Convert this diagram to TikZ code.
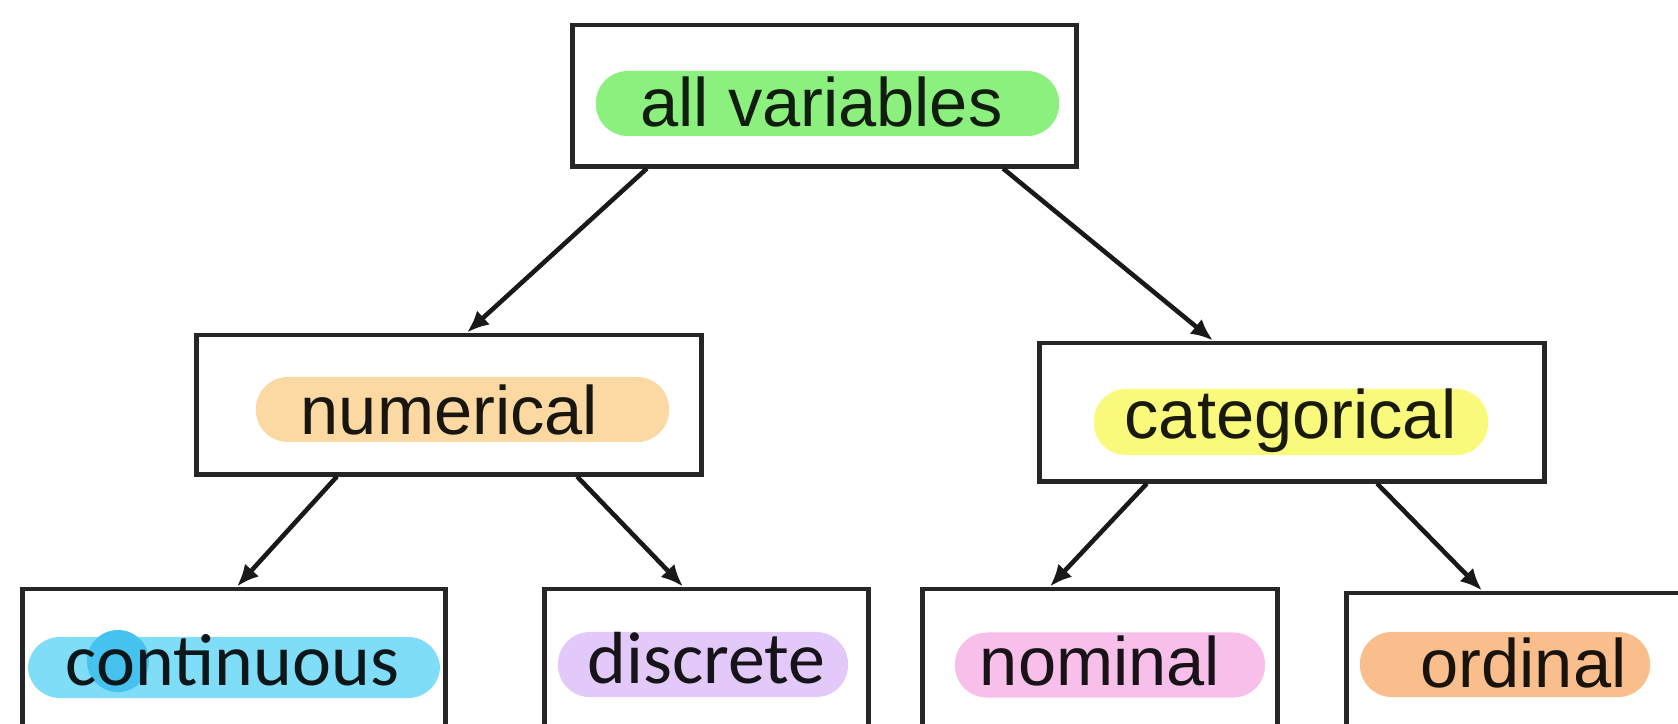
\documentclass[tikz,border=0pt]{standalone}
\usepackage{fontspec}
\setmainfont{Liberation Sans}
\newfontfamily\calfont{Carlito}
\usetikzlibrary{arrows.meta}

\tikzset{
  box/.style={draw=black!85, line width=1.4pt, inner sep=0pt},
  hlpill/.style={fill=#1, draw=none, rounded corners=0.32cm, inner sep=0pt, minimum height=0.65cm},
  lab/.style={anchor=base, inner sep=0pt, font=\fontsize{19.5}{23}\selectfont},
  arr/.style={-{Latex[length=0.22cm,width=0.19cm]}, line width=1.3pt, draw=black!90},
}

\begin{document}
\begin{tikzpicture}[x=0.01cm,y=-0.01cm]
\definecolor{allHl}{HTML}{8CF07F}
\definecolor{numHl}{HTML}{FCD9A2}
\definecolor{catHl}{HTML}{F9F97C}
\definecolor{contHl}{HTML}{80DDF7}
\definecolor{contDot}{HTML}{45C3EE}
\definecolor{discHl}{HTML}{E3C8FA}
\definecolor{nomHl}{HTML}{F7BFE9}
\definecolor{ordHl}{HTML}{F9BE8B}
\useasboundingbox (0,0) rectangle (1678,724);
\clip (0,0) rectangle (1678,724);
% top level
\node[box, minimum width=5.03cm, minimum height=1.41cm] (all) at (824.5,95.5) {};
\node[hlpill=allHl, minimum width=4.63cm] (allHlt) at (827.5,103.5) {};
\node[lab, text=allHl!12!black] (allTxt) at (821.5,126) {all variables};
% second level
\node[box, minimum width=5.04cm, minimum height=1.39cm] (num) at (449,404.5) {};
\node[hlpill=numHl, minimum width=4.13cm] (numHlt) at (462.5,409.5) {};
\node[lab, text=numHl!10!black] (numTxt) at (449.5,434) {numerical};
\node[box, minimum width=5.04cm, minimum height=1.38cm] (cat) at (1292,412) {};
\node[hlpill=catHl, minimum width=3.94cm, minimum height=0.66cm] (catHlt) at (1291,422) {};
\node[lab, text=catHl!10!black] (catTxt) at (1290.5,438) {categorical};
% bottom level
\node[box, minimum width=4.22cm, minimum height=1.39cm] (cont) at (234,658.5) {};
\node[hlpill=contHl, minimum width=4.12cm, minimum height=0.61cm] (contHlt) at (234,667.5) {};
\fill[contDot] (118,661) circle (0.31cm);
\node[lab, text=contHl!10!black, font=\calfont\fontsize{21}{25}\selectfont] (contTxt) at (232.5,685) {continuous};
\node[box, minimum width=3.23cm, minimum height=1.39cm] (disc) at (706.5,658.5) {};
\node[hlpill=discHl, minimum width=2.90cm] (discHlt) at (703,664.5) {};
\node[lab, text=discHl!10!black, font=\calfont\fontsize{21}{25}\selectfont] (discTxt) at (706.5,683) {discrete};
\node[box, minimum width=3.54cm, minimum height=1.39cm] (nom) at (1100,658.5) {};
\node[hlpill=nomHl, minimum width=3.10cm] (nomHlt) at (1110,665) {};
\node[lab, text=nomHl!10!black] (nomTxt) at (1100,685) {nominal};
\node[box, minimum width=3.52cm, minimum height=1.39cm] (ord) at (1523,662.5) {};
\node[hlpill=ordHl, minimum width=2.90cm] (ordHlt) at (1505,664.5) {};
\node[lab, text=ordHl!10!black] (ordTxt) at (1523.5,687) {ordinal};
% arrows
\draw[arr] ([xshift=-1.775cm]all.south) -- ([xshift=0.18cm]num.north);
\draw[arr] ([xshift=1.785cm]all.south) -- ([xshift=-0.79cm]cat.north);
\draw[arr] ([xshift=-1.12cm]num.south) -- ([xshift=0.03cm]cont.north);
\draw[arr] ([xshift=1.28cm]num.south) -- ([xshift=-0.235cm]disc.north);
\draw[arr] ([xshift=-1.45cm]cat.south) -- ([xshift=-0.5cm]nom.north);
\draw[arr] ([xshift=0.85cm]cat.south) -- ([xshift=-0.41cm]ord.north);
\end{tikzpicture}
\end{document}
